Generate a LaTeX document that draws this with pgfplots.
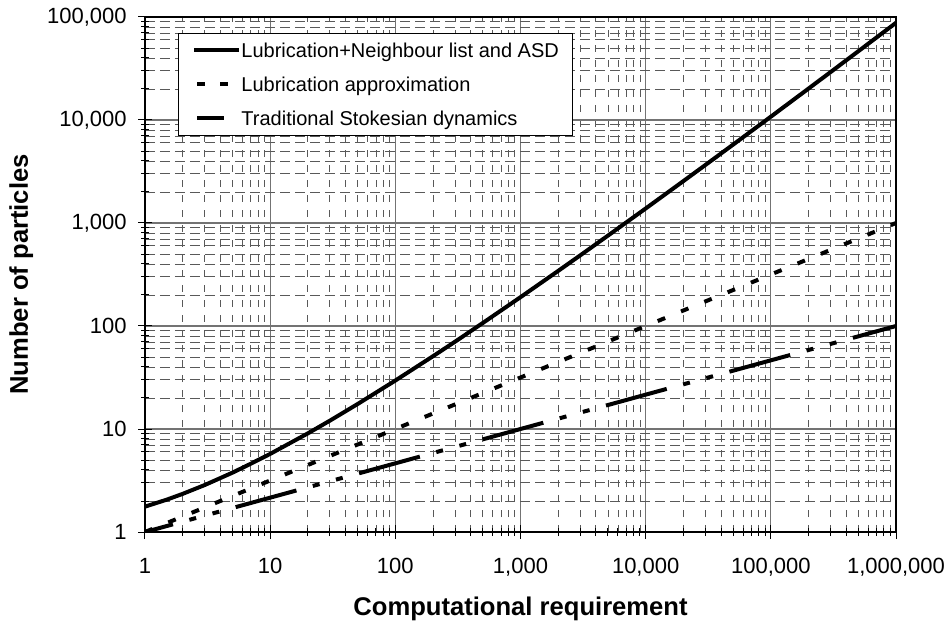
\documentclass[border=0pt]{standalone}
\usepackage{pgfplots}
\pgfplotsset{compat=1.18}
\usepackage{fontspec}
\setmainfont{Liberation Sans}

\begin{document}
\begin{tikzpicture}
% overall frame of the figure, axis box starts at the origin
\useasboundingbox (-72.5pt,-44.5pt) rectangle (403pt,266pt);
\begin{axis}[
  scale only axis,
  width=375.5pt, height=257.5pt,
  xmode=log, ymode=log,
  xmin=1, xmax=1000000,
  ymin=1, ymax=100000,
  xtick={1,10,100,1000,10000,100000,1000000},
  xticklabels={1,10,100,{1,000},{10,000},{100,000},{1,000,000}},
  ytick={1,10,100,1000,10000,100000},
  yticklabels={1,10,100,{1,000},{10,000},{100,000}},
  minor xtick={2,3,4,5,6,7,8,9,20,30,40,50,60,70,80,90,
    200,300,400,500,600,700,800,900,2000,3000,4000,5000,6000,7000,8000,9000,
    20000,30000,40000,50000,60000,70000,80000,90000,
    200000,300000,400000,500000,600000,700000,800000,900000},
  minor ytick={2,3,4,5,6,7,8,9,20,30,40,50,60,70,80,90,
    200,300,400,500,600,700,800,900,2000,3000,4000,5000,6000,7000,8000,9000,
    20000,30000,40000,50000,60000,70000,80000,90000},
  tick pos=left,
  tick align=center,
  major tick length=7pt,
  minor tick length=4pt,
  tick style={black, line width=0.5pt},
  axis line style={black, line width=0.6pt},
  grid=both,
  major grid style={black!55, line width=0.55pt, solid},
  minor x grid style={black!65, line width=0.4pt, dash pattern=on 3.5pt off 4pt},
  minor y grid style={black!65, line width=0.4pt, dash pattern=on 5pt off 2.5pt},
  ticklabel style={font=\fontsize{11}{13}\selectfont},
  xticklabel style={inner sep=0pt, anchor=north, yshift=-9.5pt},
  yticklabel style={inner sep=0pt, anchor=east, xshift=-5.5pt},
  xlabel={Computational requirement},
  ylabel={Number of particles},
  every axis x label/.style={at={(axis description cs:0.5,0)}, anchor=base,
    yshift=-41.5pt, font=\fontsize{12.8}{15}\bfseries},
  every axis y label/.style={at={(axis description cs:-0.1558,0.5)},
    rotate=90, anchor=base, font=\fontsize{12.8}{15}\bfseries},
  legend style={
    at={(rel axis cs:0.0439,0.969)}, anchor=north west,
    draw=black, line width=0.5pt, fill=white,
    inner xsep=7pt, inner ysep=0pt,
    font=\fontsize{10}{12}\selectfont,
    nodes={inner sep=0pt, text height=12.1pt, text depth=4.9pt},
  },
  legend cell align=left,
  legend image code/.code={\draw[#1] (0pt,0.2pt) -- (22.5pt,0.2pt);},
  /tikz/every even column/.append style={column sep=1.5pt},
]
% N log N scaling with neighbour lists and ASD
\addplot[black, line width=2pt, solid] coordinates {
  (1,1.763) (1.5,2.065) (2,2.346) (3,2.857) (5,3.77) (7,4.6) (10,5.73)
  (20,9.07) (30,12.05) (50,17.48) (100,29.55) (200,50.9) (300,70.4)
  (500,107) (1000,190.5) (2000,342.7) (3000,485) (5000,755)
  (10000,1383) (20000,2550) (30000,3658) (50000,5773)
  (100000,10770) (200000,20180) (300000,29180) (500000,46530)
  (1000000,87850)
};
\addlegendentry{Lubrication+Neighbour list and ASD}
% square-root scaling
\addplot[black, line width=2pt, dash pattern=on 4pt off 8.6pt,
  legend image code/.code={\draw[black, line width=2pt,
    dash pattern=on 4pt off 7.5pt] (1.5pt,0.2pt) -- (19pt,0.2pt);}]
  coordinates {
  (1,1) (1000000,1000)
};
\addlegendentry{Lubrication approximation}
% cube-root scaling
\addplot[black, line width=2pt,
  dash pattern=on 31.5pt off 8.5pt on 3.5pt off 8.5pt on 3.5pt off 8.5pt,
  dash phase=17pt,
  legend image code/.code={\draw[black, line width=2pt]
    (1.5pt,0.2pt) -- (15pt,0.2pt);}]
  coordinates {
  (1,1) (1000000,100)
};
\addlegendentry{Traditional Stokesian dynamics}
\end{axis}
\end{tikzpicture}
\end{document}
